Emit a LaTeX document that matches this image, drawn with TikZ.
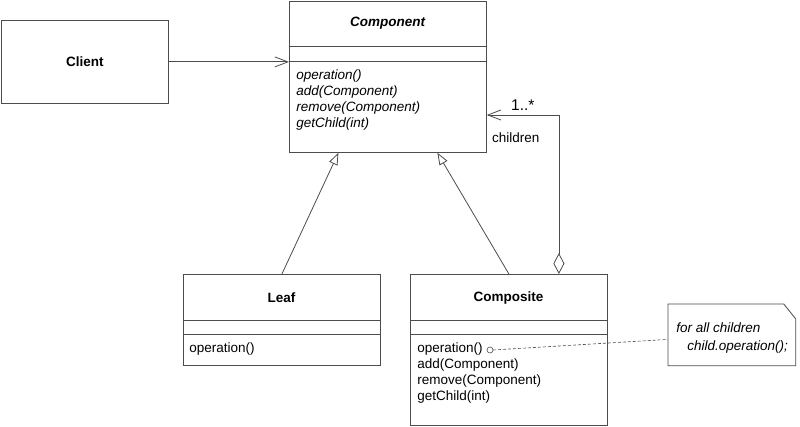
\documentclass[tikz,border=0pt]{standalone}
\usepackage{fontspec}
\setmainfont{Liberation Sans}
\usepackage{tikz}
\usetikzlibrary{arrows.meta,positioning,calc}

\begin{document}
\begin{tikzpicture}[x=1pt, y=-1pt, font=\fontsize{13.5}{16}\selectfont,
    line width=0.8pt, draw=black!70,
    classbox/.style={draw=black!70, fill=white, anchor=north west, inner sep=0pt},
    ops/.style={anchor=north west, align=left, inner sep=0pt},
    assoc/.style={draw=black!70, -{Straight Barb[length=13pt, width=10pt]}},
    inherit/.style={draw=black!70, -{Triangle[open, length=12pt, width=9pt, fill=white]}},
    aggr/.style={draw=black!70, {Diamond[open, length=21pt, width=11pt, fill=white]}-{Straight Barb[length=13pt, width=10pt]}}]
  % Frame
  \useasboundingbox (0,0) rectangle (800,427);

  % Client
  \node[classbox, minimum width=167, minimum height=83] (client) at (1,20) {};
  \node[font=\fontsize{13.5}{16}\selectfont\bfseries] (clientname) at (client.center) {Client};

  % Component (abstract)
  \node[classbox, minimum width=197, minimum height=151] (component) at (289,1) {};
  \node[font=\fontsize{13.5}{16}\selectfont\bfseries\itshape] (componentname) at (387.5,23) {Component};
  \draw (289,46) -- (486,46);
  \draw (289,61) -- (486,61);
  \node[ops, font=\fontsize{13.5}{16}\selectfont\itshape] (componentops) at (296,69) {operation()\\add(Component)\\remove(Component)\\getChild(int)};

  % Leaf
  \node[classbox, minimum width=197, minimum height=91] (leaf) at (183,274) {};
  \node[font=\fontsize{13.5}{16}\selectfont\bfseries] (leafname) at (281.5,298) {Leaf};
  \draw (183,320) -- (380,320);
  \draw (183,334) -- (380,334);
  \node[ops] (leafops) at (189,342) {operation()};

  % Composite
  \node[classbox, minimum width=197, minimum height=151] (composite) at (410,274) {};
  \node[font=\fontsize{13.5}{16}\selectfont\bfseries] (compositename) at (508.5,298) {Composite};
  \draw (410,320) -- (607,320);
  \draw (410,334) -- (607,334);
  \node[ops] (compositeops) at (417,342) {operation()\\add(Component)\\remove(Component)\\getChild(int)};

  % Note
  \node[minimum width=127, minimum height=61, anchor=north west, inner sep=0pt] (note) at (668,304) {};
  \draw[fill=white] (note.north west) -- ($(note.north east)+(-12,0)$) -- ($(note.north east)+(0,15)$)
    -- (note.south east) -- (note.south west) -- cycle;
  \node[ops, font=\fontsize{13.5}{18}\selectfont\itshape] (notetext) at (676,322) {for all children\\\hspace{11pt}child.operation();};

  % Connectors
  \draw[assoc] (client.east) -- (client.east -| component.west);
  \draw[inherit] (leaf.north) -- ($(component.south)+(-49.5,0)$);
  \draw[inherit] (composite.north) -- ($(component.south)+(49.5,0)$);
  \draw[aggr] ($(composite.north)+(50,0)$) |- (component.east |- 0,115)
    node[pos=0.75, above=1pt, font=\fontsize{15.5}{18}\selectfont] (mult) {1..*}
    node[pos=0.8, below=14pt] (rolename) {children};

  % Note link
  \coordinate (notelink) at ($(note.west)+(0,4.5)$);
  \draw[line width=0.6pt] (490,350) circle (3pt) coordinate (opdot);
  \draw[dashed, line width=0.6pt, dash pattern=on 3pt off 2pt] ($(opdot)+(3,0)$) -- (notelink);
\end{tikzpicture}
\end{document}
